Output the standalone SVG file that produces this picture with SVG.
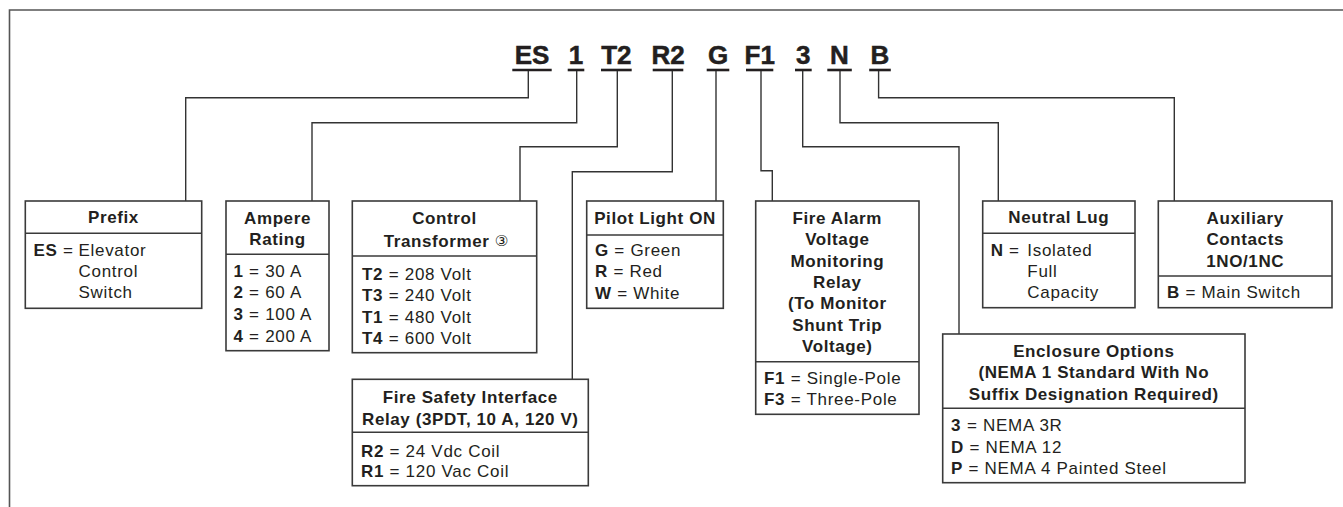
<svg xmlns="http://www.w3.org/2000/svg" width="1343" height="507" viewBox="0 0 1343 507">
<style>
text{font-family:"Liberation Sans",Arial,sans-serif;fill:#231f20}
.code{font-size:26px;font-weight:bold;text-anchor:middle;stroke:#231f20;stroke-width:0.5}
.h{font-size:17px;font-weight:bold;text-anchor:middle;letter-spacing:0.6px}
.t{font-size:17px;letter-spacing:0.7px}
.b{font-weight:bold}
.box{fill:#fff;stroke:#3a3a3a;stroke-width:1.6}
.div{stroke:#3a3a3a;stroke-width:1.4}
.con{fill:none;stroke:#333;stroke-width:1.4}
.ul{stroke:#231f20;stroke-width:2.6}
.frame{fill:none;stroke:#555;stroke-width:1.6}
.circ{font-family:"DejaVu Sans",sans-serif;font-size:15px;font-weight:normal;letter-spacing:0}
</style>
<path class="frame" d="M9.5,507 V10 H1343"/>

<g id="code">
<text class="code" x="532" y="63.5">ES</text>
<text class="code" x="576" y="63.5">1</text>
<text class="code" x="616.3" y="63.5">T2</text>
<text class="code" x="668" y="63.5">R2</text>
<text class="code" x="718" y="63.5">G</text>
<text class="code" x="759.7" y="63.5">F1</text>
<text class="code" x="803.3" y="63.5">3</text>
<text class="code" x="839.5" y="63.5">N</text>
<text class="code" x="880" y="63.5">B</text>
<line class="ul" x1="512.3" y1="70" x2="551.7" y2="70"/>
<line class="ul" x1="567.7" y1="70" x2="584.3" y2="70"/>
<line class="ul" x1="601" y1="70" x2="631.7" y2="70"/>
<line class="ul" x1="652.7" y1="70" x2="683.3" y2="70"/>
<line class="ul" x1="706.7" y1="70" x2="729.3" y2="70"/>
<line class="ul" x1="746" y1="70" x2="773.3" y2="70"/>
<line class="ul" x1="795" y1="70" x2="811.7" y2="70"/>
<line class="ul" x1="827.3" y1="70" x2="851.8" y2="70"/>
<line class="ul" x1="869.2" y1="70" x2="890.8" y2="70"/>
</g>

<g id="connectors">
<path class="con" d="M528.3,71 V97.7 H185.7 V201"/>
<path class="con" d="M576.7,71 V122.7 H312 V201"/>
<path class="con" d="M617.3,71 V146.7 H520 V201"/>
<path class="con" d="M672.3,71 V171.7 H572.3 V379.3"/>
<path class="con" d="M716,71 V201"/>
<path class="con" d="M761,71 V170.7 H772.3 V201"/>
<path class="con" d="M802.7,71 V146.7 H959 V334"/>
<path class="con" d="M840,71 V122.7 H998.3 V201"/>
<path class="con" d="M878.6,71 V97.7 H1174.3 V201"/>
</g>

<g id="prefix">
<rect class="box" x="25.3" y="201" width="176.4" height="107.3"/>
<line class="div" x1="25.3" y1="233.3" x2="201.7" y2="233.3"/>
<text class="h" x="113.5" y="223.3">Prefix</text>
<text class="t" x="33.5" y="256"><tspan class="b">ES</tspan> = <tspan x="78.5">Elevator</tspan></text>
<text class="t" x="78.5" y="277.3">Control</text>
<text class="t" x="78.5" y="298.3">Switch</text>
</g>

<g id="ampere">
<rect class="box" x="226" y="201" width="103" height="149.7"/>
<line class="div" x1="226" y1="254.3" x2="329" y2="254.3"/>
<text class="h" x="277.5" y="224">Ampere</text>
<text class="h" x="277.5" y="245">Rating</text>
<text class="t" x="233.5" y="276.7"><tspan class="b">1</tspan> = 30 A</text>
<text class="t" x="233.5" y="298.3"><tspan class="b">2</tspan> = 60 A</text>
<text class="t" x="233.5" y="320"><tspan class="b">3</tspan> = 100 A</text>
<text class="t" x="233.5" y="341.7"><tspan class="b">4</tspan> = 200 A</text>
</g>

<g id="transformer">
<rect class="box" x="352.3" y="201" width="184.4" height="151.7"/>
<line class="div" x1="352.3" y1="256" x2="536.7" y2="256"/>
<text class="h" x="444.5" y="224">Control</text>
<text class="h" x="446" y="246.7">Transformer <tspan class="circ" dy="-1">③</tspan></text>
<text class="t" x="362" y="280"><tspan class="b">T2</tspan> = 208 Volt</text>
<text class="t" x="362" y="301.3"><tspan class="b">T3</tspan> = 240 Volt</text>
<text class="t" x="362" y="322.6"><tspan class="b">T1</tspan> = 480 Volt</text>
<text class="t" x="362" y="343.9"><tspan class="b">T4</tspan> = 600 Volt</text>
</g>

<g id="pilot">
<rect class="box" x="586.7" y="201" width="136.6" height="107.3"/>
<line class="div" x1="586.7" y1="235" x2="723.3" y2="235"/>
<text class="h" x="655" y="224">Pilot Light ON</text>
<text class="t" x="595" y="256"><tspan class="b">G</tspan> = Green</text>
<text class="t" x="595" y="277.3"><tspan class="b">R</tspan> = Red</text>
<text class="t" x="595" y="298.6"><tspan class="b">W</tspan> = White</text>
</g>

<g id="firesafety">
<rect class="box" x="352.3" y="379.3" width="236" height="106.4"/>
<line class="div" x1="352.3" y1="432.3" x2="588.3" y2="432.3"/>
<text class="h" x="470.3" y="402.7">Fire Safety Interface</text>
<text class="h" x="470.3" y="425">Relay (3PDT, 10 A, 120 V)</text>
<text class="t" x="361" y="456.7"><tspan class="b">R2</tspan> = 24 Vdc Coil</text>
<text class="t" x="361" y="477.3"><tspan class="b">R1</tspan> = 120 Vac Coil</text>
</g>

<g id="firealarm">
<rect class="box" x="755.7" y="201" width="163.3" height="213.3"/>
<line class="div" x1="755.7" y1="361.7" x2="919" y2="361.7"/>
<text class="h" x="837.3" y="224">Fire Alarm</text>
<text class="h" x="837.3" y="245.3">Voltage</text>
<text class="h" x="837.3" y="266.7">Monitoring</text>
<text class="h" x="837.3" y="288">Relay</text>
<text class="h" x="837.3" y="309.3">(To Monitor</text>
<text class="h" x="837.3" y="330.7">Shunt Trip</text>
<text class="h" x="837.3" y="352">Voltage)</text>
<text class="t" x="764" y="384"><tspan class="b">F1</tspan> = Single-Pole</text>
<text class="t" x="764" y="405"><tspan class="b">F3</tspan> = Three-Pole</text>
</g>

<g id="neutral">
<rect class="box" x="982.7" y="201" width="152.3" height="106.7"/>
<line class="div" x1="982.7" y1="233.3" x2="1135" y2="233.3"/>
<text class="h" x="1058.8" y="223.3">Neutral Lug</text>
<text class="t" x="990.7" y="255.7"><tspan class="b">N</tspan> = <tspan x="1027.3">Isolated</tspan></text>
<text class="t" x="1027.3" y="277">Full</text>
<text class="t" x="1027.3" y="298.3">Capacity</text>
</g>

<g id="auxiliary">
<rect class="box" x="1158.3" y="201" width="173.7" height="106.7"/>
<line class="div" x1="1158.3" y1="276" x2="1332" y2="276"/>
<text class="h" x="1245.2" y="224">Auxiliary</text>
<text class="h" x="1245.2" y="245.3">Contacts</text>
<text class="h" x="1245.2" y="266.7">1NO/1NC</text>
<text class="t" x="1167" y="298.3"><tspan class="b">B</tspan> = Main Switch</text>
</g>

<g id="enclosure">
<rect class="box" x="942.7" y="334" width="302.3" height="148.7"/>
<line class="div" x1="942.7" y1="408.3" x2="1245" y2="408.3"/>
<text class="h" x="1093.8" y="356.7">Enclosure Options</text>
<text class="h" x="1093.8" y="378.3">(NEMA 1 Standard With No</text>
<text class="h" x="1093.8" y="400">Suffix Designation Required)</text>
<text class="t" x="951" y="431"><tspan class="b">3</tspan> <tspan x="967">= NEMA 3R</tspan></text>
<text class="t" x="951" y="452.7"><tspan class="b">D</tspan> = NEMA 12</text>
<text class="t" x="951" y="474"><tspan class="b">P</tspan> = NEMA 4 Painted Steel</text>
</g>
</svg>
